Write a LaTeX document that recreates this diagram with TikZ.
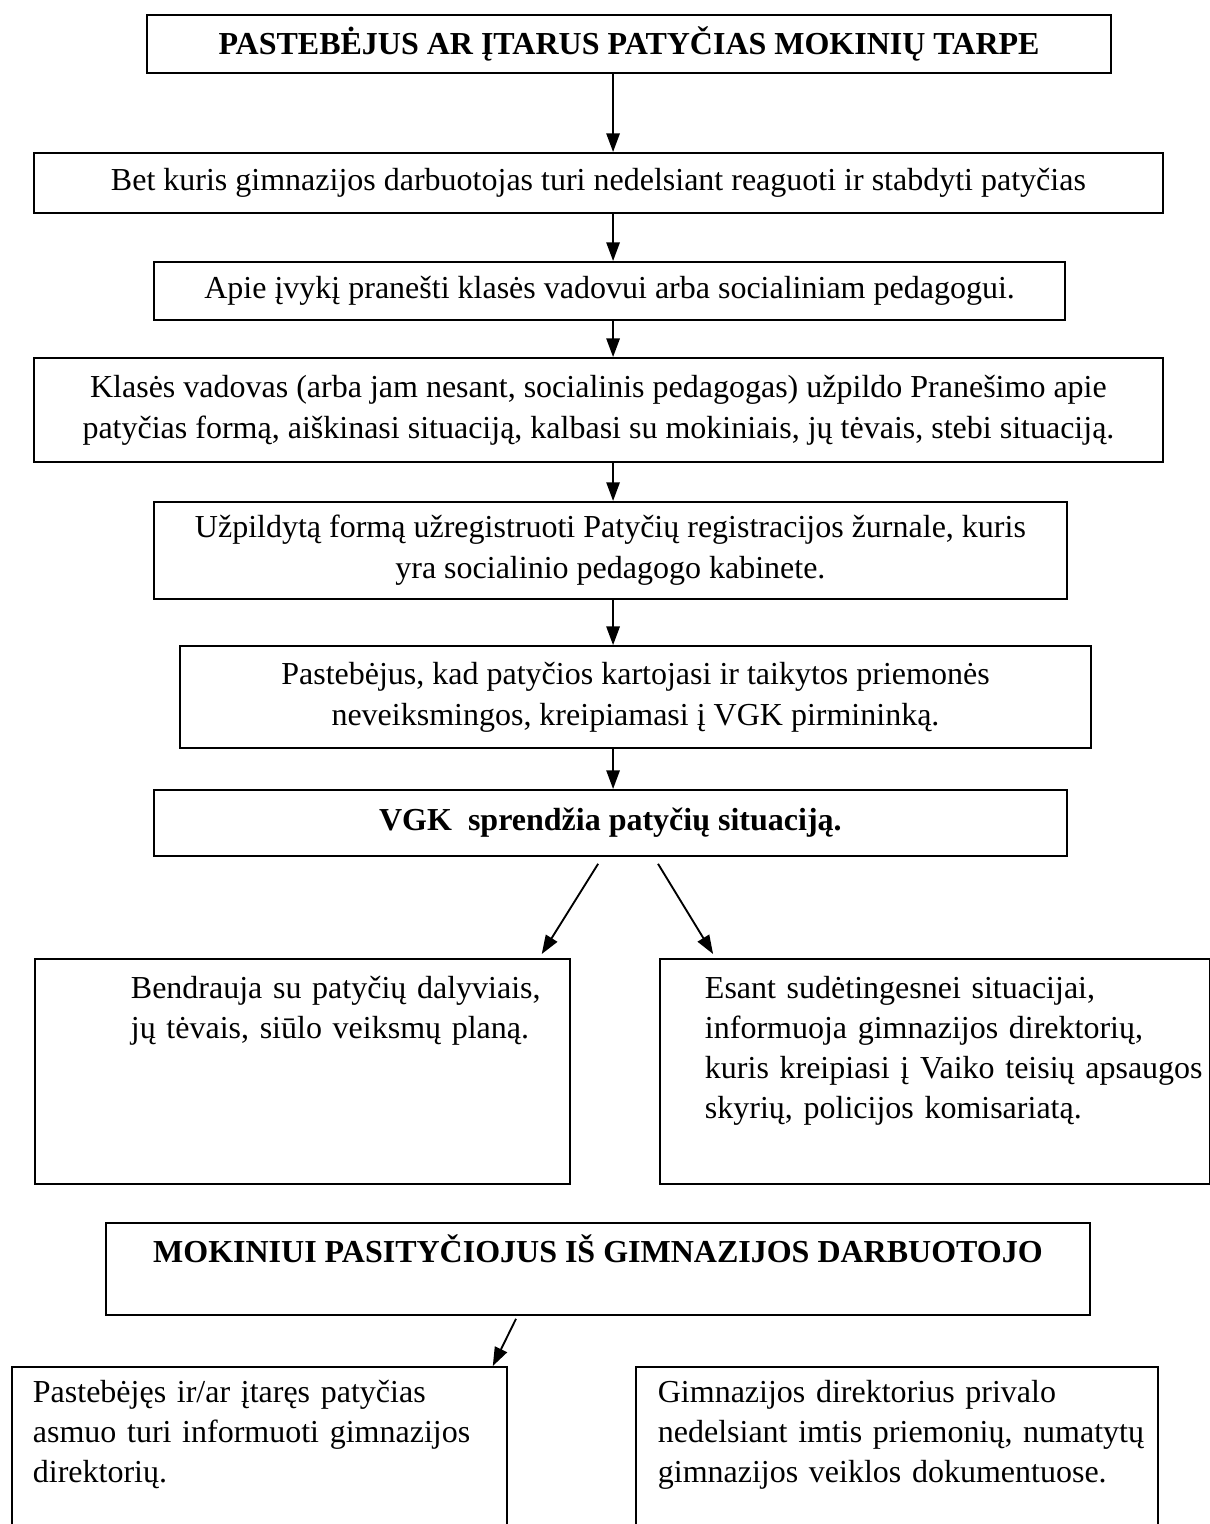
\documentclass[tikz,border=0pt]{standalone}
\usepackage{fontspec}
\setmainfont{Liberation Serif}
\usetikzlibrary{calc}
\usetikzlibrary{arrows.meta}
\tikzset{
	box/.style={rectangle, draw, line width=0.7pt, inner sep=0pt, align=center, font=\fontsize{12}{15.5}\selectfont},
	heading/.style={box, font=\fontsize{12}{15.5}\selectfont\bfseries},
	panel/.style={rectangle, draw, line width=0.7pt, inner sep=0pt, anchor=north west, align=left, font=\fontsize{12}{15}\selectfont},
	arrow/.style={draw, line width=0.7pt, -{Triangle[length=7pt, width=5pt]}}
}
\begin{document}
\begin{tikzpicture}[x=1pt, y=-1pt]
\path[use as bounding box, clip] (0,0) rectangle (453.75,571.5);

\node[heading, minimum width=361.5pt, minimum height=21.75pt] (title1) at (235.9,16.5) {PASTEBĖJUS AR ĮTARUS PATYČIAS MOKINIŲ TARPE};

\node[box, minimum width=423.4pt, minimum height=22.5pt] (react) at (224.4,68.6) {Bet kuris gimnazijos darbuotojas turi nedelsiant reaguoti ir stabdyti patyčias};

\node[box, minimum width=341.6pt, minimum height=21.75pt] (notify) at (228.6,109.1) {Apie įvykį pranešti klasės vadovui arba socialiniam pedagogui.};

\node[box, minimum width=423.4pt, minimum height=39pt] (form) at (224.4,153.75) {Klasės vadovas (arba jam nesant, socialinis pedagogas) užpildo Pranešimo apie\\
	patyčias formą, aiškinasi situaciją, kalbasi su mokiniais, jų tėvais, stebi situaciją.};

\node[box, minimum width=342.4pt, minimum height=36.4pt] (register) at (228.9,206.4) {Užpildytą formą užregistruoti Patyčių registracijos žurnale, kuris\\
	yra socialinio pedagogo kabinete.};

\node[box, minimum width=341.6pt, minimum height=38.25pt] (recur) at (238.3,261.4) {Pastebėjus, kad patyčios kartojasi ir taikytos priemonės\\
	neveiksmingos, kreipiamasi į VGK pirmininką.};

\node[heading, minimum width=342.4pt, minimum height=24.75pt] (vgk) at (228.9,308.6) {VGK~~sprendžia patyčių situaciją.};

% two outcomes of the committee
\node[panel, text width=200.6pt, text height=15pt, text depth=69.4pt] (talk) at (12.75,359.25) {\begin{tabular}[t]{@{\hspace{36pt}}l@{}}
	Bendrauja su patyčių dalyviais,\\
	jų tėvais, siūlo veiksmų planą.
\end{tabular}};

\node[panel, text width=206.3pt, text height=15pt, text depth=69.4pt] (inform) at (247.1,359.25) {\begin{tabular}[t]{@{\hspace{16.9pt}}l@{}}
	Esant sudėtingesnei situacijai,\\
	informuoja gimnazijos direktorių,\\
	kuris kreipiasi į Vaiko teisių apsaugos\\
	skyrių, policijos komisariatą.
\end{tabular}};

% second case
\node[heading, anchor=north, minimum width=369pt, text height=15pt, text depth=19.5pt] (title2) at (224.25,458.25) {MOKINIUI PASITYČIOJUS IŠ GIMNAZIJOS DARBUOTOJO};

\node[panel, text width=185.6pt, text height=13.5pt, text depth=54.25pt] (witness) at (4.1,512.25) {\begin{tabular}[t]{@{\hspace{7.9pt}}l@{}}
	Pastebėjęs ir/ar įtaręs patyčias\\
	asmuo turi informuoti gimnazijos\\
	direktorių.
\end{tabular}};

\node[panel, text width=195.8pt, text height=13.5pt, text depth=54.25pt] (director) at (238.1,512.25) {\begin{tabular}[t]{@{\hspace{8.25pt}}l@{}}
	Gimnazijos direktorius privalo\\
	nedelsiant imtis priemonių, numatytų\\
	gimnazijos veiklos dokumentuose.
\end{tabular}};

\coordinate (spine) at (229.9,0);

\draw [arrow] (title1.south -| spine) -- (react.north -| spine);
\draw [arrow] (react.south -| spine) -- (notify.north -| spine);
\draw [arrow] (notify.south -| spine) -- (form.north -| spine);
\draw [arrow] (form.south -| spine) -- (register.north -| spine);
\draw [arrow] (register.south -| spine) -- (recur.north -| spine);
\draw [arrow] (recur.south -| spine) -- (vgk.north -| spine);
\draw [arrow] ($(vgk.south)+(-4.6,2.6)$) -- ($(talk.north east)+(-10.9,-1.5)$);
\draw [arrow] ($(vgk.south)+(17.85,2.6)$) -- ($(inform.north west)+(20.3,-1.5)$);
\draw [arrow] ($(title2.south)+(-30.75,1.1)$) -- ($(witness.north east)+(-5.6,0)$);

\end{tikzpicture}
\end{document}
